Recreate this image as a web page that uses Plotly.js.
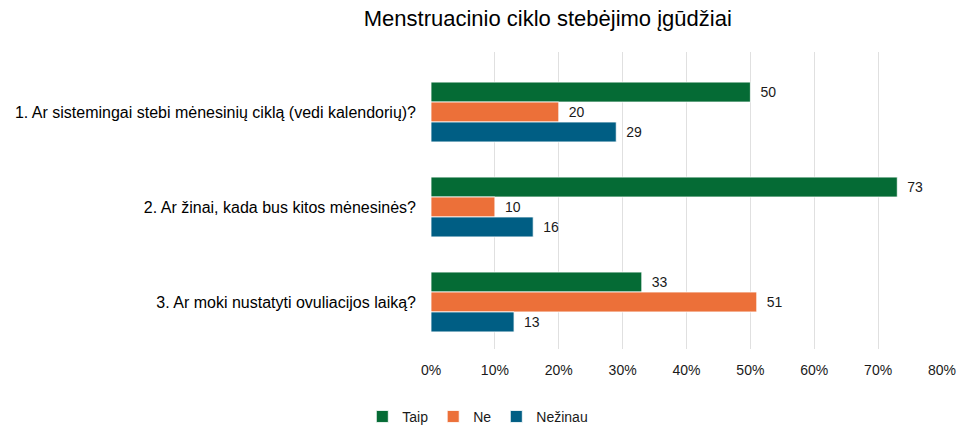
<!DOCTYPE html>
<html>
<head>
<meta charset="utf-8">
<script src="https://cdn.plot.ly/plotly-3.0.1.min.js"></script>
<style>html,body{margin:0;padding:0;background:#fff;}#chart{width:961px;height:428px;}</style>
</head>
<body>
<div id="chart"></div>
<script>
const categories = [
  "1. Ar sistemingai stebi mėnesinių ciklą (vedi kalendorių)?",
  "2. Ar žinai, kada bus kitos mėnesinės?",
  "3. Ar moki nustatyti ovuliacijos laiką?"
];
const seriesNames = ["Taip", "Ne", "Nežinau"];
const taip = [50, 73, 33];
const ne = [20, 10, 51];
const nezinau = [29, 16, 13];
const xTickVals = [0, 10, 20, 30, 40, 50, 60, 70, 80];
const xTickText = ["0%", "10%", "20%", "30%", "40%", "50%", "60%", "70%", "80%"];

const colors = ["#056B35", "#EC7039", "#005E84"];
const allVals = [taip, ne, nezinau];

const traces = allVals.map((vals, i) => ({
  type: "bar",
  orientation: "h",
  name: seriesNames[i],
  y: categories,
  x: vals,
  text: vals.map(v => "\u2002" + String(v)),
  textposition: "outside",
  cliponaxis: false,
  textfont: {family: "Liberation Sans, Arial, sans-serif", size: 14, color: "#1a1a1a"},
  marker: {color: colors[i], line: {color: "#ffffff", width: 0.8}},
  hoverinfo: "skip"
}));

const layout = {
  width: 961,
  height: 428,
  margin: {l: 431, r: 19, t: 52, b: 79},
  paper_bgcolor: "#ffffff",
  plot_bgcolor: "#ffffff",
  barmode: "group",
  bargap: 0.37,
  bargroupgap: 0,
  showlegend: true,
  title: {
    text: "Menstruacinio ciklo stebėjimo įgūdžiai",
    font: {family: "Liberation Sans, Arial, sans-serif", size: 22, color: "#000000"},
    xref: "container", yref: "container",
    x: 0.570, xanchor: "center",
    y: 0.958, yanchor: "middle"
  },
  xaxis: {
    range: [0, 80],
    tickvals: xTickVals,
    ticktext: xTickText,
    showgrid: true,
    gridcolor: "#e0e0e0",
    gridwidth: 1,
    zeroline: false,
    showline: false,
    ticks: "",
    ticklabelstandoff: 11,
    tickfont: {family: "Liberation Sans, Arial, sans-serif", size: 14, color: "#1a1a1a"},
    fixedrange: true
  },
  yaxis: {
    type: "category",
    categoryorder: "array",
    categoryarray: categories,
    range: [2.495, -0.632],
    showgrid: false,
    zeroline: false,
    showline: false,
    ticks: "",
    ticklabelstandoff: 14,
    tickfont: {family: "Liberation Sans, Arial, sans-serif", size: 16, color: "#000000"},
    fixedrange: true
  },
  legend: {
    orientation: "h",
    xref: "container", yref: "container",
    x: 0.377, xanchor: "left",
    y: 0.026, yanchor: "middle",
    font: {family: "Liberation Sans, Arial, sans-serif", size: 14, color: "#1a1a1a"},
    traceorder: "normal",
    itemwidth: 30
  }
};

Plotly.newPlot("chart", traces, layout, {staticPlot: true, displayModeBar: false});
</script>
</body>
</html>
